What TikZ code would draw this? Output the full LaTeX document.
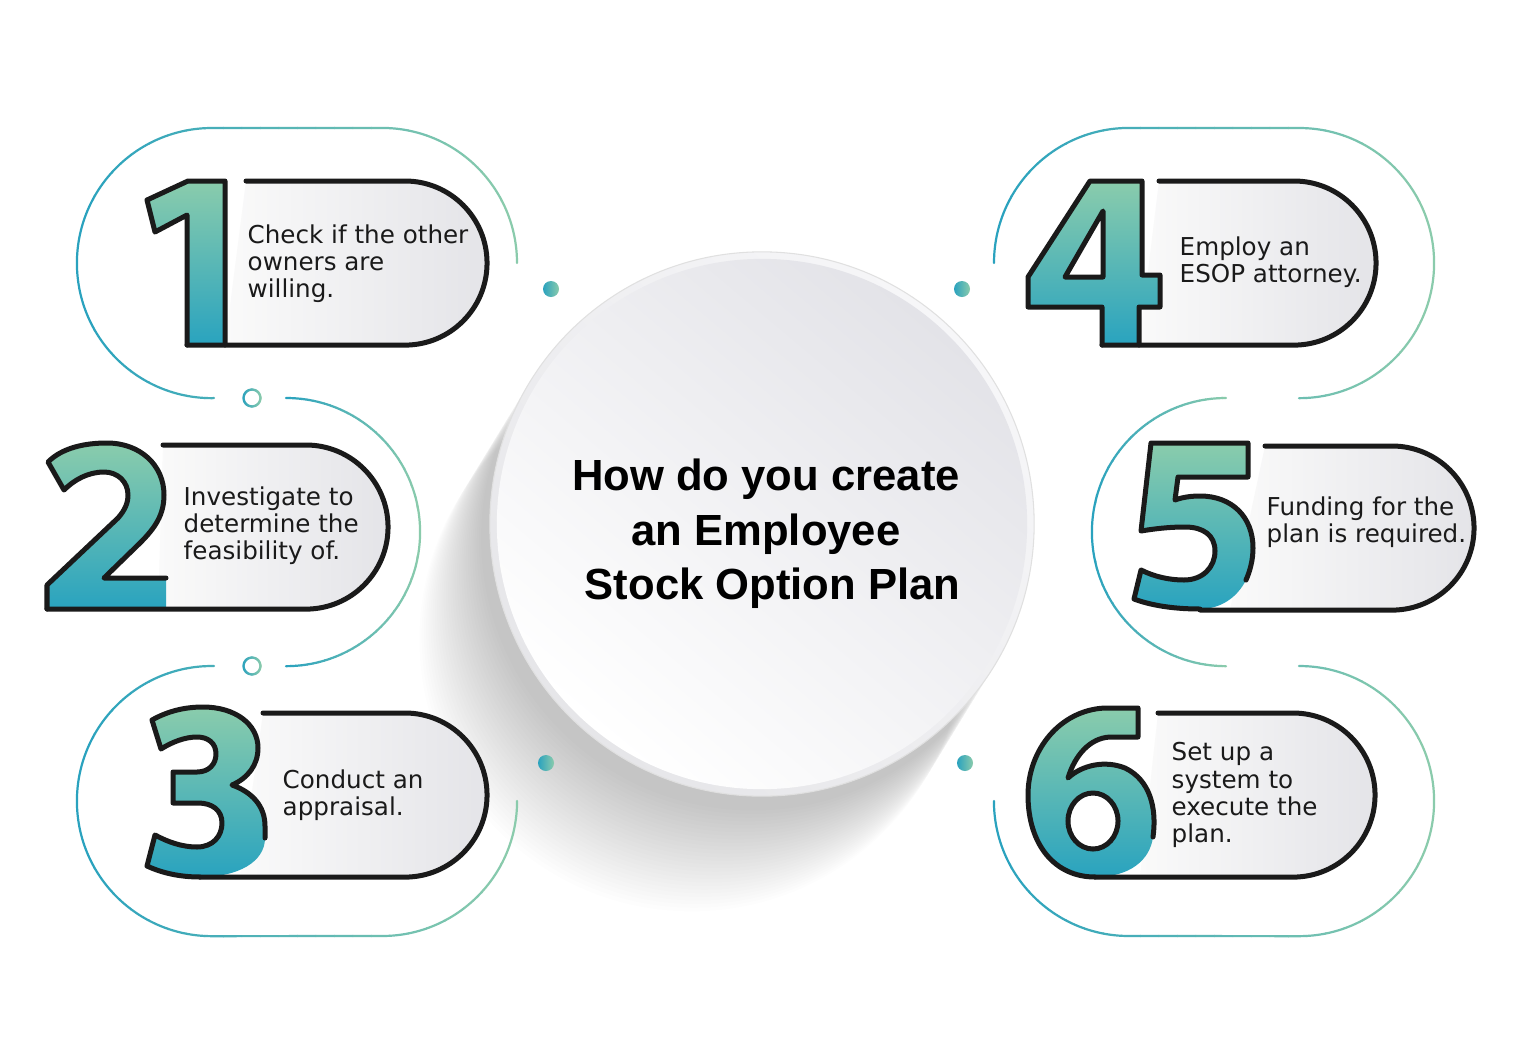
\documentclass[tikz,border=0pt]{standalone}
\usepackage{fontspec}
\setmainfont{DejaVu Sans}
\newfontfamily\titlefont{Liberation Sans}
\usepackage{tikz}
\definecolor{outTeal}{RGB}{42,162,190}
\definecolor{outGreen}{RGB}{138,203,172}
\definecolor{digitTop}{RGB}{138,204,172}
\definecolor{digitBottom}{RGB}{41,163,191}
\definecolor{pillLeft}{RGB}{250,250,250}
\definecolor{pillRight}{RGB}{228,228,232}
\definecolor{circTop}{RGB}{227,227,232}
\definecolor{rimLight}{RGB}{246,246,248}
\definecolor{rimDark}{RGB}{230,230,233}
\definecolor{ink}{RGB}{26,26,26}

% thin line drawn in strips, teal on the left to green on the right
\newcommand{\ringline}[3]{%
  \foreach \i in {0,...,23}{%
    \pgfmathsetmacro{\mixpct}{100-\i*100/23}%
    \begin{scope}
      \clip ({#1+(#2-#1)*\i/24},0) rectangle ({#1+(#2-#1)*(\i+1)/24+0.6},1036);
      \draw[ringstroke, draw=outTeal!\mixpct!outGreen] #3;
    \end{scope}
  }%
}

\begin{document}
\begin{tikzpicture}[x=0.01cm, y=-0.01cm,
    ringstroke/.style={line width=0.022cm, line cap=round},
    pillfill/.style={left color=pillLeft, right color=pillRight},
    pillline/.style={line width=0.05cm, draw=ink, line cap=round, line join=round},
    digitfill/.style={top color=digitTop, bottom color=digitBottom},
    digitline/.style={line width=0.05cm, draw=ink, line cap=round, line join=round},
    steptext/.style={font=\fontsize{7}{7.7}\selectfont, text=ink, align=left, anchor=west, inner sep=0pt},
    titletext/.style={font=\titlefont\bfseries\fontsize{12.4}{15.5}\selectfont, text=black, align=center, inner sep=0pt}]
    %% Background
    \fill[white] (0,0) rectangle (1536,1036);
    \useasboundingbox (0,0) rectangle (1536,1036);

    %% Shadow of the circle
    \foreach \k in {4,...,32}
        \fill[black, opacity=0.008] ({762-2.2*\k},{524+3.6*\k}) circle[radius=2.72cm];

    %% Circle
    \shade[top color=rimLight, bottom color=rimDark, shading angle=-45, draw=black!12, line width=0.3pt] (762,524) circle[radius=2.72cm];
    \shade[top color=circTop, bottom color=white, shading angle=-40] (762,524) circle[radius=2.65cm];
    \node[titletext] (title) at (766,534) {How do you create\\an Employee\\\hspace*{0.3em}Stock Option Plan};

    %% Thin outer lines, left
    \ringline{75}{519}{(517,263) arc[start angle=0, end angle=90, radius=1.35cm] -- (212,128) arc[start angle=90, end angle=270, radius=1.35cm] -- (214,398)}
    \ringline{284}{422}{(286,398) arc[start angle=90, end angle=-90, radius=1.34cm]}
    \ringline{75}{519}{(214,666) -- (212,666) arc[start angle=90, end angle=270, radius=1.35cm] -- (382,936) arc[start angle=270, end angle=360, radius=1.35cm]}
    \ringline{242}{262}{(252,398) circle[radius=0.085cm]}
    \ringline{242}{262}{(252,666) circle[radius=0.085cm]}

    %% Thin outer lines, right
    \ringline{992}{1436}{(994,263) arc[start angle=180, end angle=90, radius=1.35cm] -- (1299,128) arc[start angle=90, end angle=-90, radius=1.35cm]}
    \ringline{1090}{1228}{(1226,398) arc[start angle=90, end angle=270, radius=1.34cm]}
    \ringline{992}{1436}{(1299,666) arc[start angle=90, end angle=-90, radius=1.35cm] -- (1129,936) arc[start angle=270, end angle=180, radius=1.35cm]}

    %% Dots
    \shade[left color=outTeal, right color=outGreen] (551,289) circle[radius=0.08cm];
    \shade[left color=outTeal, right color=outGreen] (962,289) circle[radius=0.08cm];
    \shade[left color=outTeal, right color=outGreen] (546,763) circle[radius=0.08cm];
    \shade[left color=outTeal, right color=outGreen] (965,763) circle[radius=0.08cm];

    %% Step 1
    \shade[pillfill] (246,181) -- (405,181) arc[start angle=90, end angle=-90, radius=0.82cm] -- (225,345) -- cycle;
    \def\numone{(225,345) -- (225,181) -- (188,181) -- (147,200) -- (155,232) -- (187,215) -- (187,345)}
    \shade[digitfill] \numone -- cycle;
    \draw[digitline] \numone;
    \draw[pillline] (246,181) -- (405,181) arc[start angle=90, end angle=-90, radius=0.82cm] -- (187,345);
    \node[steptext] (step1) at (247,264) {Check if the other\\owners are\\willing.};

    %% Step 2
    \shade[pillfill] (163,445) -- (306,445) arc[start angle=90, end angle=-90, radius=0.82cm] -- (158,609) -- cycle;
    \def\numtwo{(166,578) -- (104,578) -- (140,543) .. controls (155,528) and (164,515) .. (164,495) .. controls (164,465) and (140,443) .. (107,443) .. controls (84,443) and (62,448) .. (48,462) -- (64,490) .. controls (74,480) and (88,472) .. (104,472) .. controls (118,472) and (128,482) .. (128,495) .. controls (128,503) and (125,510) .. (118,518) -- (47,585) -- (47,609)}
    \shade[digitfill] \numtwo -- (166,609) -- cycle;
    \draw[digitline] \numtwo;
    \draw[pillline] (163,445) -- (306,445) arc[start angle=90, end angle=-90, radius=0.82cm] -- (47,609);
    \node[steptext] (step2) at (183,526) {Investigate to\\determine the\\feasibility of.};

    %% Step 3
    \shade[pillfill] (263,713) -- (405,713) arc[start angle=90, end angle=-90, radius=0.82cm] -- (240,877) -- cycle;
    \def\numthree{(265,838) -- (265,826) .. controls (265,806) and (252,792) .. (232,785) .. controls (248,778) and (258,765) .. (258,748) .. controls (258,724) and (235,707) .. (203,707) .. controls (185,707) and (168,711) .. (152,720) -- (161,749) .. controls (172,742) and (185,737) .. (197,737) .. controls (208,737) and (216,743) .. (216,754) .. controls (216,764) and (209,772) .. (197,772) -- (173,772) -- (173,803) -- (198,803) .. controls (212,803) and (222,810) .. (222,823) .. controls (222,836) and (213,847) .. (197,847) .. controls (182,847) and (168,842) .. (155,835) -- (147,866) .. controls (162,873) and (180,877) .. (200,877)}
    \shade[digitfill] \numthree .. controls (238,877) and (265,862) .. (265,838) -- cycle;
    \draw[digitline] \numthree;
    \draw[pillline] (263,713) -- (405,713) arc[start angle=90, end angle=-90, radius=0.82cm] -- (200,877);
    \node[steptext] (step3) at (282,795) {Conduct an\\appraisal.};

    %% Step 4
    \shade[pillfill] (1159,181) -- (1294,181) arc[start angle=90, end angle=-90, radius=0.82cm] -- (1139,345) -- cycle;
    \def\numfour{(1139,345) -- (1139,307) -- (1160,307) -- (1160,275) -- (1142,275) -- (1142,181) -- (1090,181) -- (1028,277) -- (1028,307) -- (1102,307) -- (1102,345)}
    \shade[digitfill, even odd rule] \numfour -- cycle (1065,277) -- (1103,277) -- (1103,211) -- cycle;
    \draw[digitline] \numfour;
    \draw[digitline] (1065,277) -- (1103,277) -- (1103,211) -- cycle;
    \draw[pillline] (1159,181) -- (1294,181) arc[start angle=90, end angle=-90, radius=0.82cm] -- (1102,345);
    \node[steptext] (step4) at (1179,262) {Employ an\\ESOP attorney.};

    %% Step 5
    \shade[pillfill] (1265,446) -- (1392,446) arc[start angle=90, end angle=-90, radius=0.82cm] -- (1230,610) -- cycle;
    \def\numfive{(1200,609) .. controls (1172,609) and (1150,605) .. (1134,599) -- (1141,570) .. controls (1155,577) and (1170,580) .. (1184,580) .. controls (1203,580) and (1215,567) .. (1215,551) .. controls (1215,535) and (1203,527) .. (1185,527) .. controls (1168,527) and (1153,529) .. (1141,531) -- (1151,443) -- (1248,443) -- (1248,477) -- (1178,477) -- (1175,500) .. controls (1183,497) and (1192,496) .. (1200,496) .. controls (1232,496) and (1253,517) .. (1253,548) .. controls (1253,560) and (1250,571) .. (1246,580)}
    \shade[digitfill] \numfive .. controls (1237,598) and (1220,609) .. (1200,609) -- cycle;
    \draw[digitline] \numfive;
    \draw[pillline] (1265,446) -- (1392,446) arc[start angle=90, end angle=-90, radius=0.82cm] -- (1200,610);
    \node[steptext] (step5) at (1266,522) {Funding for the\\plan is required.};

    %% Step 6
    \shade[pillfill] (1158,713) -- (1293,713) arc[start angle=90, end angle=-90, radius=0.82cm] -- (1140,877) -- cycle;
    \def\numsix{(1153,837) .. controls (1157,808) and (1150,780) .. (1125,768) .. controls (1105,760) and (1082,765) .. (1068,778) .. controls (1075,755) and (1090,738) .. (1110,737) -- (1138,737) -- (1138,708) -- (1105,708) .. controls (1060,710) and (1028,750) .. (1028,795) .. controls (1028,845) and (1055,877) .. (1095,877)}
    \shade[digitfill, even odd rule] \numsix .. controls (1130,877) and (1150,860) .. (1153,837) -- cycle (1093,821) ellipse[x radius=0.25cm, y radius=0.28cm];
    \draw[digitline] \numsix;
    \draw[digitline] (1093,821) ellipse[x radius=0.25cm, y radius=0.28cm];
    \draw[pillline] (1158,713) -- (1293,713) arc[start angle=90, end angle=-90, radius=0.82cm] -- (1095,877);
    \node[steptext] (step6) at (1171,795) {Set up a\\system to\\execute the\\plan.};
\end{tikzpicture}
\end{document}
